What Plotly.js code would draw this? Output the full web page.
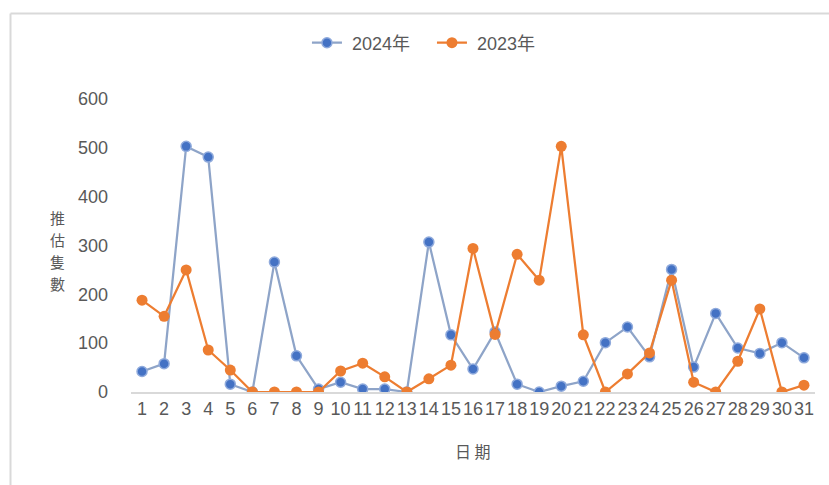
<!DOCTYPE html>
<html>
<head>
<meta charset="utf-8">
<script src="https://cdn.plot.ly/plotly-3.0.1.min.js"></script>
<style>html,body{margin:0;padding:0;background:#fff;}#chart{width:829px;height:485px;}</style>
</head>
<body>
<div id="chart"></div>
<script>
const days = ["1","2","3","4","5","6","7","8","9","10","11","12","13","14","15","16","17","18","19","20","21","22","23","24","25","26","27","28","29","30","31"];
const values2024 = [42,58,503,481,16,0,266,74,6,20,6,6,0,307,117,47,123,16,0,12,22,101,133,72,251,51,161,90,79,101,70];
const values2023 = [188,155,250,86,45,0,0,0,0,43,59,31,0,27,55,294,118,282,229,503,117,0,37,80,229,20,0,63,170,0,14];
const yTicks = [0,100,200,300,400,500,600];
const yTitleChars = ["推","估","隻","數"];

const fontFam = "Liberation Sans, Noto Sans CJK TC, sans-serif";
const gray = "#595959";

const traces = [
  {
    x: days, y: values2024, name: " 2024年", type: "scatter", mode: "lines+markers",
    line: {color: "#8EA4C8", width: 2.25},
    marker: {color: "#4472C4", size: 10, line: {color: "#8FAADC", width: 1.5}}
  },
  {
    x: days, y: values2023, name: " 2023年", type: "scatter", mode: "lines+markers",
    line: {color: "#ED7D31", width: 2.25},
    marker: {color: "#ED7D31", size: 11}
  }
];

const annotations = yTitleChars.map((ch, i) => ({
  text: ch, xref: "paper", yref: "paper", x: (57 - 131) / 684, y: (392 - (217 + i * 22)) / 293,
  xanchor: "center", yanchor: "middle", showarrow: false,
  font: {family: "Noto Sans CJK TC", size: 15, color: gray}
}));
annotations.push({text: "日 期", xref: "paper", yref: "paper", x: (473 - 131) / 684, y: (392 - 451) / 293,
  xanchor: "center", yanchor: "middle", showarrow: false,
  font: {family: "Noto Sans CJK TC", size: 16, color: gray}});

const layout = {
  width: 829, height: 485,
  margin: {l: 131, r: 14, t: 99, b: 93},
  paper_bgcolor: "#fff", plot_bgcolor: "#fff",
  font: {family: fontFam, color: gray, size: 18},
  showlegend: true,
  legend: {orientation: "h", x: 0.44, xanchor: "center", y: (392 - 43) / 293, yanchor: "middle",
           bgcolor: "rgba(0,0,0,0)", font: {size: 18, color: gray}, tracegroupgap: 0,
           entrywidth: 80, entrywidthmode: "pixels"},
  xaxis: {
    type: "category", tickvals: days, ticktext: days, tickangle: 0, range: [-0.5, 30.5], autorange: false,
    showgrid: false, showline: true, linecolor: "#D9D9D9", linewidth: 1.5,
    ticks: "", zeroline: false, fixedrange: true,
    tickfont: {size: 18, color: gray}
  },
  yaxis: {
    range: [0, 600], autorange: false, tickvals: yTicks, ticktext: yTicks.map(String),
    showgrid: false, showline: false, zeroline: false, ticks: "",
    tickfont: {size: 18, color: gray}, ticklabelstandoff: 22
  },
  annotations: annotations,
  shapes: [
    {type: "line", xref: "paper", yref: "paper", x0: (10.5 - 131) / 684, x1: 1.03, y0: (392 - 13.5) / 293, y1: (392 - 13.5) / 293,
     line: {color: "#D9D9D9", width: 2}},
    {type: "line", xref: "paper", yref: "paper", x0: (10.5 - 131) / 684, x1: (10.5 - 131) / 684, y0: (392 - 13.5) / 293, y1: -0.4,
     line: {color: "#D9D9D9", width: 2}}
  ]
};

Plotly.newPlot("chart", traces, layout, {displayModeBar: false, staticPlot: true});
</script>
</body>
</html>
